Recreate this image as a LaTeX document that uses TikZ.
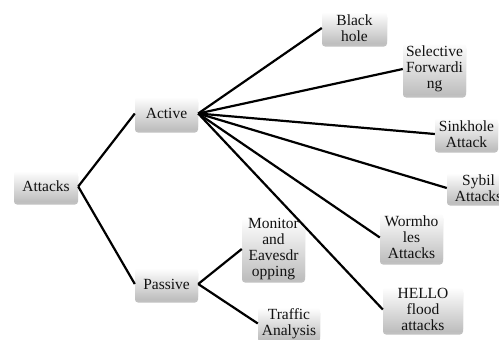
\documentclass[tikz,border=0pt]{standalone}
\usepackage{fontspec}
\setmainfont{Liberation Serif}
\usepackage{xcolor}
\usepackage{tikz}
\usetikzlibrary{positioning,shadows}
\definecolor{ink}{HTML}{111111}
\definecolor{boxGray}{HTML}{BDBDBD}

\begin{document}
\begin{tikzpicture}[
  x=1pt, y=-1pt,
  every node/.style={font=\fontsize{15.5}{16}\selectfont, text=ink},
  box/.style={
    rectangle, rounded corners=3pt, draw=none,
    top color=white, bottom color=boxGray,
    drop shadow={shadow xshift=0pt, shadow yshift=-2.5pt, opacity=0.35, fill=black!70},
    inner xsep=1pt, inner ysep=0pt, align=center,
    minimum width=63pt, minimum height=32pt,
  },
  link/.style={line width=2.2pt, black},
]

% ── Canvas ──
\useasboundingbox (0,0) rectangle (499,340);

% ── Level 1 / 2 ──
\node[box, minimum width=64pt, minimum height=31pt] (attacks) at (46,186.5) {Attacks};
\node[box, minimum height=33pt] (active)  at (166.5,113.5) {Active};
\node[box]                      (passive) at (166.5,284)   {Passive};

% ── Level 3: active attacks ──
\node[box, minimum width=65pt]  (blackhole) at (354.5,28)   {Black\\hole};
\node[box, minimum height=52pt] (selfwd)    at (434.5,69)   {Selective\\Forwardi\\ng};
\node[box]                      (sinkhole)  at (466.5,134)  {Sinkhole\\Attack};
\node[box, minimum height=30pt] (sybil)     at (478.5,188)  {Sybil\\Attacks};
\node[box, minimum height=49pt] (wormhole)  at (411.5,237.5) {Wormho\\les\\Attacks};
\node[box, minimum width=80pt, minimum height=45pt] (hello) at (423,309.5) {HELLO\\flood\\attacks};

% ── Level 3: passive attacks ──
\node[box, minimum height=62pt] (monitor) at (273.5,249) {Monitor\\and\\Eavesdr\\opping};
\node[box, minimum width=62pt]  (traffic) at (289,323.5) {Traffic\\Analysis};

% ── Links ──
\foreach \dst in {active, passive} {
  \draw[link] (attacks.east) -- (\dst.west);
}
\foreach \dst in {blackhole, selfwd, sinkhole, sybil, wormhole, hello} {
  \draw[link] (active.east) -- (\dst.west);
}
\foreach \dst in {monitor, traffic} {
  \draw[link] (passive.east) -- (\dst.west);
}

\end{tikzpicture}
\end{document}
